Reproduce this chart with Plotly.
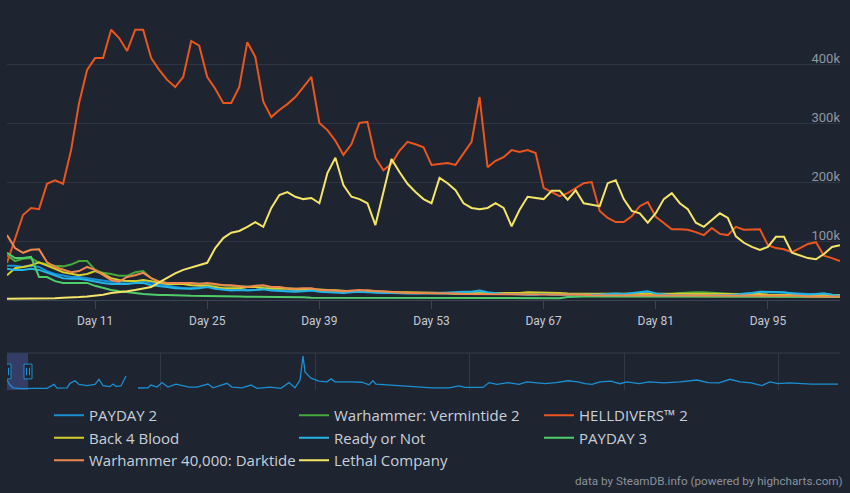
import plotly.graph_objects as go

# ---------------- data (player counts, thousands) ----------------
days = list(range(0, 105))
tick_days = [11, 25, 39, 53, 67, 81, 95]
tick_labels = ["Day 11", "Day 25", "Day 39", "Day 53", "Day 67", "Day 81", "Day 95"]
y_tick_values = [0, 100000, 200000, 300000, 400000, 500000]
y_tick_labels = ["0", "100k", "200k", "300k", "400k", "500k"]

series_names = ["PAYDAY 2", "Warhammer: Vermintide 2", "HELLDIVERS™ 2", "Back 4 Blood",
                "Ready or Not", "PAYDAY 3", "Warhammer 40,000: Darktide", "Lethal Company"]

payday2 = [58, 58, 56, 58, 56, 49, 44, 41, 39, 39,
           37, 34, 32, 31, 31, 31, 31, 32, 29, 27,
           25, 22, 20, 20, 22, 24, 20, 19, 17, 19,
           17, 17, 19, 17, 17, 15, 15, 16, 17, 15,
           14, 14, 13, 14, 15, 14, 13, 13, 12, 12,
           12, 11, 11, 12, 11, 11, 10, 11, 12, 13,
           11, 10, 10, 11, 10, 10, 10, 11, 10, 10,
           10, 10, 11, 10, 10, 10, 9, 10, 11, 12,
           12, 10, 9, 9, 10, 9, 9, 10, 9, 9,
           9, 10, 10, 12, 13, 13, 13, 12, 11, 10,
           10, 10, 11, 9, 8]

vermintide2 = [76, 66, 70, 71, 63, 60, 58, 57, 60, 66,
               66, 51, 46, 44, 41, 41, 47, 49, 37, 31,
               29, 29, 28, 28, 28, 27, 25, 24, 23, 23,
               23, 22, 22, 21, 20, 20, 19, 18, 18, 17,
               16, 16, 15, 15, 14, 14, 13, 13, 12, 12,
               12, 12, 11, 11, 11, 11, 10, 10, 10, 10,
               10, 9, 9, 9, 9, 9, 9, 10, 9, 9,
               9, 9, 9, 9, 10, 10, 9, 9, 10, 10,
               10, 10, 9, 10, 12, 13, 13, 13, 12, 11,
               10, 10, 9, 9, 9, 9, 8, 8, 8, 8,
               8, 8, 7, 7, 7]

helldivers2 = [63, 102, 144, 156, 154, 197, 203, 197, 254, 334,
               390, 410, 410, 458, 444, 422, 458, 458, 410, 390,
               373, 361, 378, 439, 431, 378, 358, 334, 334, 361,
               437, 412, 336, 310, 322, 332, 344, 361, 378, 300,
               288, 270, 246, 264, 300, 302, 241, 220, 231, 253,
               268, 264, 259, 229, 231, 232, 229, 249, 268, 344,
               225, 236, 242, 254, 251, 254, 249, 190, 183, 176,
               181, 190, 198, 200, 151, 139, 132, 132, 142, 159,
               166, 141, 131, 120, 120, 119, 115, 110, 122, 112,
               110, 124, 119, 120, 120, 93, 88, 86, 81, 88,
               95, 98, 75, 71, 66]

back4blood = [42, 54, 56, 59, 64, 59, 53, 47, 44, 42,
              44, 49, 44, 37, 34, 32, 32, 34, 32, 29,
              27, 27, 27, 25, 25, 24, 22, 20, 20, 20,
              22, 22, 20, 20, 19, 19, 18, 18, 19, 18,
              17, 16, 15, 15, 15, 16, 15, 14, 14, 13,
              13, 13, 12, 12, 12, 12, 11, 11, 11, 11,
              11, 11, 11, 12, 12, 13, 13, 13, 12, 12,
              11, 11, 11, 11, 11, 11, 10, 10, 11, 11,
              11, 11, 11, 11, 11, 11, 10, 10, 10, 10,
              10, 10, 10, 10, 10, 9, 9, 9, 9, 9,
              9, 9, 8, 8, 8]

ready_or_not = [53, 51, 51, 53, 51, 46, 41, 37, 36, 36,
                34, 31, 29, 27, 27, 27, 29, 29, 25, 24,
                22, 20, 19, 19, 20, 22, 19, 17, 16, 17,
                16, 17, 18, 16, 15, 15, 14, 15, 16, 14,
                13, 13, 12, 13, 14, 13, 12, 12, 12, 11,
                11, 11, 12, 12, 12, 13, 14, 14, 14, 16,
                13, 11, 10, 10, 9, 9, 9, 10, 9, 9,
                9, 8, 9, 9, 9, 10, 11, 10, 12, 13,
                15, 11, 9, 8, 8, 7, 7, 7, 8, 8,
                8, 9, 10, 12, 14, 14, 14, 13, 11, 10,
                9, 10, 11, 9, 7]

payday3 = [80, 71, 71, 73, 39, 39, 32, 29, 29, 29,
           29, 24, 20, 17, 15, 14, 12, 10, 9, 8.5,
           8.5, 7.5, 7.5, 7, 7, 7, 6.5, 6, 6, 6,
           5.5, 5.5, 5, 5, 5, 4.5, 4.5, 4.5, 4, 4,
           4, 4, 4, 4, 4, 3.5, 3.5, 3.5, 3.5, 3.5,
           3.5, 3.5, 3.5, 3.5, 3, 3, 3, 3, 3, 3,
           3, 3, 3, 3, 3, 3, 3, 3, 3, 3,
           5, 6, 6, 6, 6, 6, 5.5, 5.5, 5.5, 5.5,
           5.5, 5.5, 5, 5, 5, 5, 5, 5, 5, 5,
           5, 5, 5, 5, 5, 5, 5, 5, 5, 5,
           5, 5, 5, 5, 5]

darktide = [110, 88, 80, 85, 86, 64, 56, 51, 47, 49,
            56, 51, 42, 34, 31, 39, 42, 46, 37, 31,
            29, 29, 29, 29, 27, 29, 27, 25, 25, 24,
            22, 24, 25, 22, 22, 20, 19, 20, 20, 17,
            17, 16, 15, 16, 17, 16, 15, 14, 13, 13,
            12, 12, 12, 11, 11, 11, 11, 10, 10, 10,
            10, 10, 10, 10, 9, 9, 9, 9, 9, 9,
            9, 9, 9, 8, 8, 8, 8, 8, 8, 8,
            8, 8, 8, 8, 8, 8, 8, 7, 7, 7,
            7, 7, 7, 7, 7, 7, 7, 7, 7, 7,
            6, 6, 6, 6, 6]

lethal_company = [2, 2, 2, 2, 3, 3, 3, 4, 4, 5,
                  6, 7, 9, 12, 13, 15, 17, 20, 22, 30,
                  38, 45, 51, 55, 59, 63, 88, 105, 114, 117,
                  124, 132, 124, 156, 178, 183, 175, 171, 173, 164,
                  215, 241, 195, 175, 171, 164, 127, 183, 239, 217,
                  197, 183, 171, 164, 207, 198, 186, 164, 156, 154,
                  156, 164, 156, 125, 153, 175, 173, 171, 185, 185,
                  170, 186, 164, 161, 159, 198, 203, 171, 151, 147,
                  131, 147, 171, 181, 164, 154, 131, 124, 136, 147,
                  139, 108, 97, 90, 85, 90, 107, 107, 80, 75,
                  71, 69, 78, 90, 93]

# navigator: long PAYDAY 2 history (period index, relative players)
nav_period = [0, 3, 6, 15, 25, 40, 47, 50, 60, 63, 68, 72, 80, 88, 92, 96, 103, 106, 109, 114, 119,
              124, 131, 141, 144, 150, 155, 161, 169, 177, 182, 190, 201, 206, 220, 225, 235, 244,
              250, 263, 274, 282, 288, 293, 296, 298, 304, 312, 320, 324, 328, 344, 355, 362, 366,
              369, 382, 393, 404, 425, 442, 452, 458, 476, 482, 490, 501, 512, 520, 528, 538, 549,
              561, 571, 578, 585, 593, 604, 613, 620, 632, 642, 657, 673, 690, 701, 712, 723, 733,
              744, 755, 763, 771, 782, 793, 804, 820, 831]
nav_players = [27, 13.5, 6, 3.5, 4.5, 4.5, 15, 5, 6, 18, 25, 15, 12, 15, 29, 12, 9, 16, 10, 11, 38,
               None, 5.4, 6, 13.5, 8, 20, 8, 16, 10, 8, 8, 16, 6, 18, 8, 6, 13.5,
               4.5, 8, 4.5, 20, 6, 27, 92, 49, 32, 24, 22, 30, 22, 22, 21, 14, 25,
               16, 13.5, 12, 9, 6, 6, 11, 7, 7, 20, 15, 20, 15, 22, 19, 17, 20,
               25, 22, 17, 15, 22, 24, 17, 22, 17, 22, 19, 22, 27, 20, 19, 29, 22,
               19, 12, 22, 17, 19, 17, 16, 16, 16]
nav_selection = [0, 21]
nav_grid = [153, 308, 462, 617, 771]

# ---------------- styling ----------------
colors = ["#1b8fd2", "#47a83c", "#ec551d", "#d3cf2b", "#23b5e6", "#4fcd6b", "#f0884f", "#f5e566"]
bg = "#1f2431"
grid = "#2e3646"
W, H = 850, 493
FONT = "Roboto"

all_series = [payday2, vermintide2, helldivers2, back4blood, ready_or_not, payday3, darktide, lethal_company]

fig = go.Figure()
for name, vals, col in zip(series_names, all_series, colors):
    fig.add_trace(go.Scatter(
        x=days, y=[v * 1000 for v in vals], name=name, mode="lines",
        line=dict(color=col, width=2), xaxis="x", yaxis="y"))

fig.add_trace(go.Scatter(
    x=nav_period, y=nav_players, mode="lines", showlegend=False,
    line=dict(color="#1b8fd2", width=1.3), connectgaps=False,
    xaxis="x2", yaxis="y2", hoverinfo="skip"))

px_x = lambda p: p / W
px_y = lambda p: 1 - p / H

shapes = [
    dict(type="line", xref="x2 domain", yref="y2 domain", x0=0, x1=1, y0=1, y1=1,
         line=dict(color="#333d4d", width=1)),
    dict(type="rect", xref="x2", yref="y2 domain", x0=nav_selection[0], x1=nav_selection[1],
         y0=0, y1=1, fillcolor="rgba(90,108,200,0.35)", line=dict(width=0), layer="below"),
]
for xs in nav_selection:
    shapes.append(dict(type="rect", xref="x2", yref="y2 domain", xsizemode="pixel", xanchor=xs,
                       x0=-4, x1=4, y0=0.30, y1=0.70, fillcolor=bg,
                       line=dict(color="#1b8fd2", width=1)))
    for off in (-1.5, 1.5):
        shapes.append(dict(type="line", xref="x2", yref="y2 domain", xsizemode="pixel", xanchor=xs,
                           x0=off, x1=off, y0=0.40, y1=0.60,
                           line=dict(color="#1b8fd2", width=1)))

fig.update_layout(
    width=W, height=H,
    margin=dict(l=0, r=0, t=0, b=0),
    paper_bgcolor=bg, plot_bgcolor=bg,
    font=dict(family=FONT, color="#c7d0da"),
    showlegend=True,
    xaxis=dict(domain=[px_x(7), px_x(840)], range=[0, 104], tickvals=tick_days, ticktext=tick_labels,
               ticks="outside", ticklen=8, tickcolor="#3a4452", showline=True, linecolor="#3a4452",
               showgrid=False, zeroline=False, tickfont=dict(size=12, color="#c3cad3"),
               ticklabelstandoff=2, anchor="y", fixedrange=True),
    yaxis=dict(domain=[px_y(300), px_y(5)], range=[0, 500000], tickvals=y_tick_values,
               ticktext=y_tick_labels, side="right", ticklabelposition="inside top",
               ticklabelstandoff=-3, ticklabelshift=4,
               gridcolor=grid, showline=False, zeroline=False, ticks="",
               tickfont=dict(size=13, color="#8e98a4"), anchor="x", fixedrange=True),
    xaxis2=dict(domain=[px_x(7), px_x(840)], range=[0, 833], tickvals=nav_grid, showticklabels=False,
                showgrid=True, gridcolor="#2f3948", zeroline=False, ticks="", anchor="y2",
                fixedrange=True),
    yaxis2=dict(domain=[px_y(390), px_y(353)], range=[0, 100], showticklabels=False, showgrid=False,
                zeroline=False, anchor="x2", fixedrange=True),
    legend=dict(orientation="h", x=px_x(49), xanchor="left", y=px_y(399), yanchor="top",
                entrywidth=200, entrywidthmode="pixels",
                font=dict(family="Open Sans", size=15, color="#c7d0da"),
                bgcolor="rgba(0,0,0,0)", itemwidth=30, traceorder="normal"),
    shapes=shapes,
    annotations=[dict(text="data by SteamDB.info (powered by highcharts.com)", xref="paper", yref="paper",
                      x=px_x(845), y=px_y(481), xanchor="right", yanchor="middle", showarrow=False,
                      font=dict(size=11.7, color="#8a929c"))],
)

fig.write_html("out.html", config={"displayModeBar": False},
               post_script="document.body.style.margin='0px';document.documentElement.style.margin='0px';")
